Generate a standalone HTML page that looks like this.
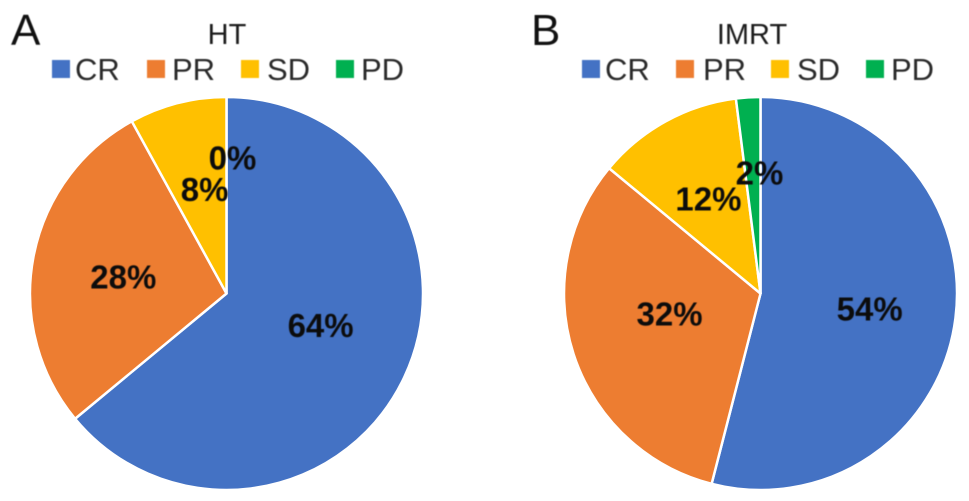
<!DOCTYPE html>
<html lang="en">
<head>
<meta charset="utf-8">
<title>HT and IMRT response pie charts</title>
<style>
  html, body { margin: 0; padding: 0; background: #fff; }
  body { width: 969px; height: 501px; overflow: hidden; }
  svg { display: block; font-family: "Liberation Sans", sans-serif; }
  .soft { filter: blur(0.45px); }
  .panel { font-size: 44px; fill: #111; }
  .title { font-size: 29px; fill: #1c1c1c; text-anchor: middle; }
  .legend { font-size: 31px; fill: #2a2a2a; }
  .pct { font-size: 33px; font-weight: bold; fill: #0c0c0c; text-anchor: middle; }
</style>
</head>
<body>
<svg id="chart" width="969" height="501" viewBox="0 0 969 501" xmlns="http://www.w3.org/2000/svg">
  <g class="soft">
    <text class="panel" x="11" y="45">A</text>
    <text class="panel" x="531" y="45">B</text>
    <text class="title" x="227" y="44">HT</text>
    <text class="title" x="752" y="44">IMRT</text>

    <rect x="52" y="60" width="18" height="18" fill="#4472C4"></rect>
    <text class="legend" x="75" y="80">CR</text>
    <rect x="147" y="60" width="18" height="18" fill="#ED7D31"></rect>
    <text class="legend" x="172" y="80">PR</text>
    <rect x="241" y="60" width="18" height="18" fill="#FFC000"></rect>
    <text class="legend" x="267" y="80">SD</text>
    <rect x="336" y="60" width="18" height="18" fill="#00B050"></rect>
    <text class="legend" x="361" y="80">PD</text>

    <rect x="582" y="60" width="18" height="18" fill="#4472C4"></rect>
    <text class="legend" x="605" y="80">CR</text>
    <rect x="676" y="60" width="18" height="18" fill="#ED7D31"></rect>
    <text class="legend" x="703" y="80">PR</text>
    <rect x="771" y="60" width="18" height="18" fill="#FFC000"></rect>
    <text class="legend" x="797" y="80">SD</text>
    <rect x="866" y="60" width="18" height="18" fill="#00B050"></rect>
    <text class="legend" x="891" y="80">PD</text>
  </g>
  <g id="pie-ht"></g>
  <g id="pie-imrt"></g>
</svg>
<script>
const categories = ['CR', 'PR', 'SD', 'PD'];
const htValues = [64, 28, 8, 0];
const imrtValues = [54, 32, 12, 2];

const sliceColors = ['#4472C4', '#ED7D31', '#FFC000', '#00B050'];
const NS = 'http://www.w3.org/2000/svg';
const RADIUS = 196.5;
const LABEL_RADIUS = 104;
const CENTER_Y = 293.5;

function angleOf(share, total) {
  return share / total * 2 * Math.PI;
}
function polar(cx, cy, r, a) {
  return [cx + r * Math.sin(a), cy - r * Math.cos(a)];
}
function drawPie(groupId, key, cx, values, labelNudges) {
  const group = document.getElementById(groupId);
  const total = values.reduce((s, v) => s + v, 0);
  let running = 0;
  const labels = [];
  values.forEach((v, i) => {
    const start = angleOf(running, total);
    const end = angleOf(running + v, total);
    const mid = (start + end) / 2;
    running += v;
    if (v > 0) {
      const p0 = polar(cx, CENTER_Y, RADIUS, start);
      const p1 = polar(cx, CENTER_Y, RADIUS, end);
      const large = end - start > Math.PI ? 1 : 0;
      const path = document.createElementNS(NS, 'path');
      path.setAttribute('d', 'M' + cx + ' ' + CENTER_Y + 'L' + p0[0] + ' ' + p0[1] +
        'A' + RADIUS + ' ' + RADIUS + ' 0 ' + large + ' 1 ' + p1[0] + ' ' + p1[1] + 'Z');
      path.setAttribute('fill', sliceColors[i]);
      path.setAttribute('stroke', '#fff');
      path.setAttribute('stroke-width', '2.5');
      path.setAttribute('stroke-linejoin', 'round');
      
      
      group.appendChild(path);
    }
    const pos = polar(cx, CENTER_Y, LABEL_RADIUS, mid);
    labels.push([pos[0] + labelNudges[i][0], pos[1] + labelNudges[i][1], v, i]);
  });
  labels.forEach((l) => {
    const t = document.createElementNS(NS, 'text');
    t.setAttribute('class', 'pct soft');
    t.setAttribute('x', l[0]);
    t.setAttribute('y', l[1] + 11);
    t.textContent = l[2] + '%';
    
    
    group.appendChild(t);
  });
}
drawPie('pie-ht', 'ht', 226.5, htValues, [[0, -12], [-1, 3.5], [4, -3], [6, -31]]);
drawPie('pie-imrt', 'imrt', 760.5, imrtValues, [[6, 3], [8, -11], [-2, -3], [5.5, -16]]);
</script>
</body>
</html>
